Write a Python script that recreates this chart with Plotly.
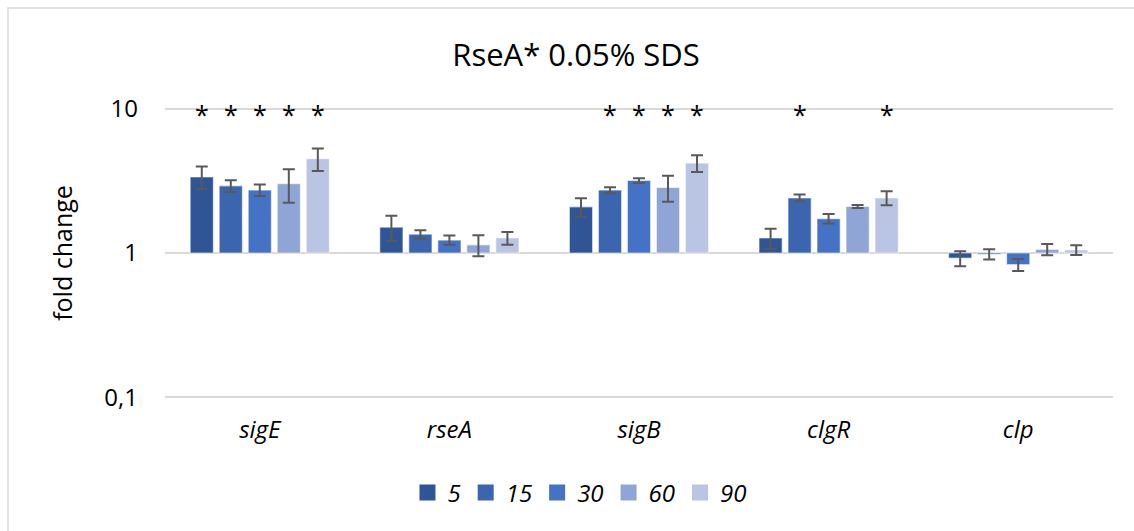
import plotly.graph_objects as go

categories = ["sigE", "rseA", "sigB", "clgR", "clp"]
series_names = ["5", "15", "30", "60", "90"]
colors = ["#2F5597", "#3B65AE", "#4472C4", "#8EA5D6", "#BAC4E3"]

values_5 = [3.37, 1.51, 2.09, 1.27, 0.92]
values_15 = [2.92, 1.35, 2.73, 2.41, 0.98]
values_30 = [2.73, 1.23, 3.18, 1.73, 0.83]
values_60 = [3.02, 1.14, 2.85, 2.10, 1.06]
values_90 = [4.50, 1.27, 4.20, 2.41, 1.05]

err_5 = [0.60, 0.30, 0.31, 0.20, 0.11]
err_15 = [0.27, 0.09, 0.13, 0.13, 0.08]
err_30 = [0.25, 0.09, 0.12, 0.13, 0.08]
err_60 = [0.79, 0.19, 0.58, 0.05, 0.095]
err_90 = [0.80, 0.13, 0.55, 0.27, 0.08]

sig_5 = [True, False, False, False, False]
sig_15 = [True, False, True, True, False]
sig_30 = [True, False, True, False, False]
sig_60 = [True, False, True, False, False]
sig_90 = [True, False, True, True, False]

y_tickvals = [0.1, 1, 10]
y_ticktext = ["0,1", "1", "10"]

values = [values_5, values_15, values_30, values_60, values_90]
errors = [err_5, err_15, err_30, err_60, err_90]
sigs = [sig_5, sig_15, sig_30, sig_60, sig_90]

W, H = 1134, 531
ML, MR, MT, MB = 165, 21, 107, 132
BARGAP = 0.235
FONT = "Open Sans"

fig = go.Figure()
for name, vals, errs, col in zip(series_names, values, errors, colors):
    fig.add_trace(go.Bar(
        name=name,
        x=categories,
        y=[v - 1 for v in vals],
        base=1,
        marker=dict(color=col, line=dict(color="rgba(255,255,255,0.55)", width=1.2)),
        error_y=dict(type="data", array=errs, visible=True, color="#595959",
                     thickness=2, width=6),
        showlegend=False,
        hoverinfo="skip",
    ))
for name, col in zip(series_names, colors):
    fig.add_trace(go.Scatter(
        name=name, x=[None], y=[None], mode="markers",
        marker=dict(symbol="square", size=16, color=col),
        showlegend=True,
    ))

# significance asterisks
plot_w = W - ML - MR
slot_px = plot_w / len(categories) * (1 - BARGAP) / len(series_names)
annotations = []
for i, sig in enumerate(sigs):
    for c, s in zip(categories, sig):
        if s:
            annotations.append(dict(
                x=c, y=1, xref="x", yref="y", text="*", showarrow=False,
                xshift=(i - (len(series_names) - 1) / 2) * slot_px,
                yshift=-5, yanchor="middle",
                font=dict(family=FONT, size=25, color="#000000"),
            ))

fig.update_layout(
    width=W, height=H,
    margin=dict(l=ML, r=MR, t=MT, b=MB),
    paper_bgcolor="white", plot_bgcolor="white",
    barmode="group", bargap=BARGAP, bargroupgap=0.2,
    title=dict(text="RseA* 0.05% SDS", x=0.508, xref="container", xanchor="center",
               y=1 - 55 / H, yref="container", yanchor="middle",
               font=dict(family=FONT, size=31, color="#000000")),
    font=dict(family=FONT, color="#000000"),
    legend=dict(orientation="h", x=0.511, xref="container", xanchor="center",
                y=1 - 493 / H, yref="container", yanchor="middle",
                font=dict(family=FONT, size=24, color="#000000", style="italic"),
                itemclick=False),
    annotations=annotations,
    shapes=[dict(type="rect", xref="paper", yref="paper",
                 x0=(8 - ML) / plot_w, x1=1 + (MR + 20) / plot_w,
                 y0=-(MB + 20) / (H - MT - MB), y1=1 + (MT - 8) / (H - MT - MB),
                 line=dict(color="#D9D9D9", width=1.5), layer="below")],
)
fig.update_xaxes(
    type="category", showgrid=False, showline=False, zeroline=False,
    ticks="", ticklabelstandoff=14,
    tickfont=dict(family=FONT, size=24, color="#000000", style="italic"),
)
fig.update_yaxes(
    type="log", range=[-1.012, 1.012], tickvals=y_tickvals, ticktext=y_ticktext,
    showgrid=True, gridcolor="#D9D9D9", gridwidth=1.5, zeroline=False, showline=False,
    ticks="", ticklabelstandoff=26,
    tickfont=dict(family=FONT, size=24, color="#000000"),
    title=dict(text="fold change", standoff=24, font=dict(family=FONT, size=25, color="#000000")),
)

fig.write_html("out.html")
